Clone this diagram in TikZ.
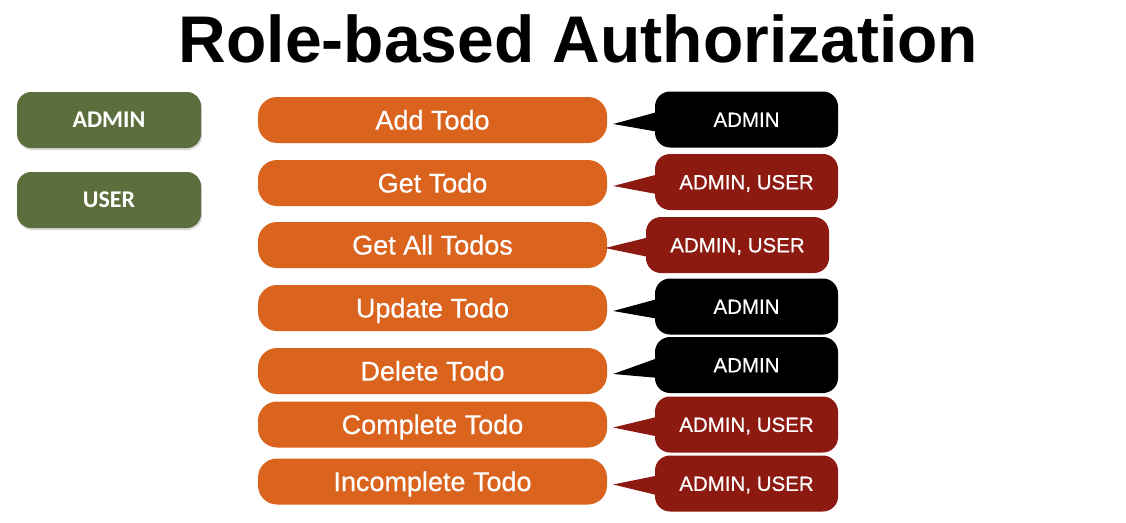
\documentclass[tikz,border=0pt]{standalone}
\usepackage{fontspec}
\setmainfont{Liberation Sans}
\newfontfamily\rolefont{Carlito}
\newfontfamily\labelfont[FakeBold=0.5]{Liberation Sans}
\usetikzlibrary{calc,shadows}
\definecolor{rolegreen}{HTML}{5D6E3D}
\definecolor{todoorange}{HTML}{DA631E}
\definecolor{permred}{HTML}{8C1A10}
\begin{document}
\begin{tikzpicture}[x=1pt,y=-1pt,
  role/.style={fill=rolegreen, rounded corners=14pt, minimum width=184pt, minimum height=56pt,
    text=white, text height=15.5pt, text depth=0pt, font=\rolefont\bfseries\fontsize{24}{24}\selectfont,
    drop shadow={opacity=0.3, shadow xshift=1pt, shadow yshift=-2pt}},
  todo/.style={fill=todoorange, rounded corners=19pt, minimum width=349pt, minimum height=46pt,
    text=white, text height=19pt, text depth=0pt, font=\labelfont\fontsize{27}{27}\selectfont},
  perm/.style={rounded corners=15pt, minimum width=183pt, minimum height=56pt,
    text=white, text height=14.7pt, text depth=0pt, font=\labelfont\fontsize{20.5}{20.5}\selectfont}]
\useasboundingbox (0,0) rectangle (1126,522);
% title
\node[anchor=base, font=\bfseries\fontsize{66}{66}\selectfont] (title) at (578.5,62) {Role-based Authorization};
% roles
\node[role] (admin) at (109,120) {ADMIN};
\node[role] (user) at (109,200) {USER};
% operations
\node[todo] (add) at (432.5,120) {Add Todo};
\node[todo] (get) at (432.5,183) {Get Todo};
\node[todo] (getall) at (432.5,245) {Get All Todos};
\node[todo] (update) at (432.5,308) {Update Todo};
\node[todo] (delete) at (432.5,371) {Delete Todo};
\node[todo] (complete) at (432.5,424.5) {Complete Todo};
\node[todo] (incomplete) at (432.5,481.5) {Incomplete Todo};
% permissions
\node[perm, fill=black] (padd) at (746.5,119.5) {ADMIN};
\node[perm, fill=permred] (pget) at (746.5,182) {ADMIN, USER};
\node[perm, fill=permred] (pgetall) at (737.5,245) {ADMIN, USER};
\node[perm, fill=black] (pupdate) at (746.5,306.5) {ADMIN};
\node[perm, fill=black] (pdelete) at (746.5,365) {ADMIN};
\node[perm, fill=permred] (pcomplete) at (746.5,424.5) {ADMIN, USER};
\node[perm, fill=permred] (pincomplete) at (746.5,483.5) {ADMIN, USER};
% pointers
\coordinate (tadd) at ($(add.east)+(6,4)$);
\coordinate (tget) at ($(get.east)+(6,3)$);
\coordinate (tgetall) at ($(getall.east)+(-2,3)$);
\coordinate (tupdate) at ($(update.east)+(6,3)$);
\coordinate (tdelete) at ($(delete.east)+(6,3)$);
\coordinate (tcomplete) at ($(complete.east)+(6,3)$);
\coordinate (tincomplete) at ($(incomplete.east)+(6,3)$);
\fill[black] (tadd) -- ($(padd.west)+(10,-9.5)$) -- ($(padd.west)+(10,13.5)$) -- cycle;
\fill[permred] (tget) -- ($(pget.west)+(10,-9.5)$) -- ($(pget.west)+(10,13.5)$) -- cycle;
\fill[permred] (tgetall) -- ($(pgetall.west)+(10,-9.5)$) -- ($(pgetall.west)+(10,13.5)$) -- cycle;
\fill[black] (tupdate) -- ($(pupdate.west)+(10,-9.5)$) -- ($(pupdate.west)+(10,13.5)$) -- cycle;
\fill[black] (tdelete) -- ($(pdelete.west)+(10,-9.5)$) -- ($(pdelete.west)+(10,13.5)$) -- cycle;
\fill[permred] (tcomplete) -- ($(pcomplete.west)+(10,-9.5)$) -- ($(pcomplete.west)+(10,13.5)$) -- cycle;
\fill[permred] (tincomplete) -- ($(pincomplete.west)+(10,-9.5)$) -- ($(pincomplete.west)+(10,13.5)$) -- cycle;
\end{tikzpicture}
\end{document}
